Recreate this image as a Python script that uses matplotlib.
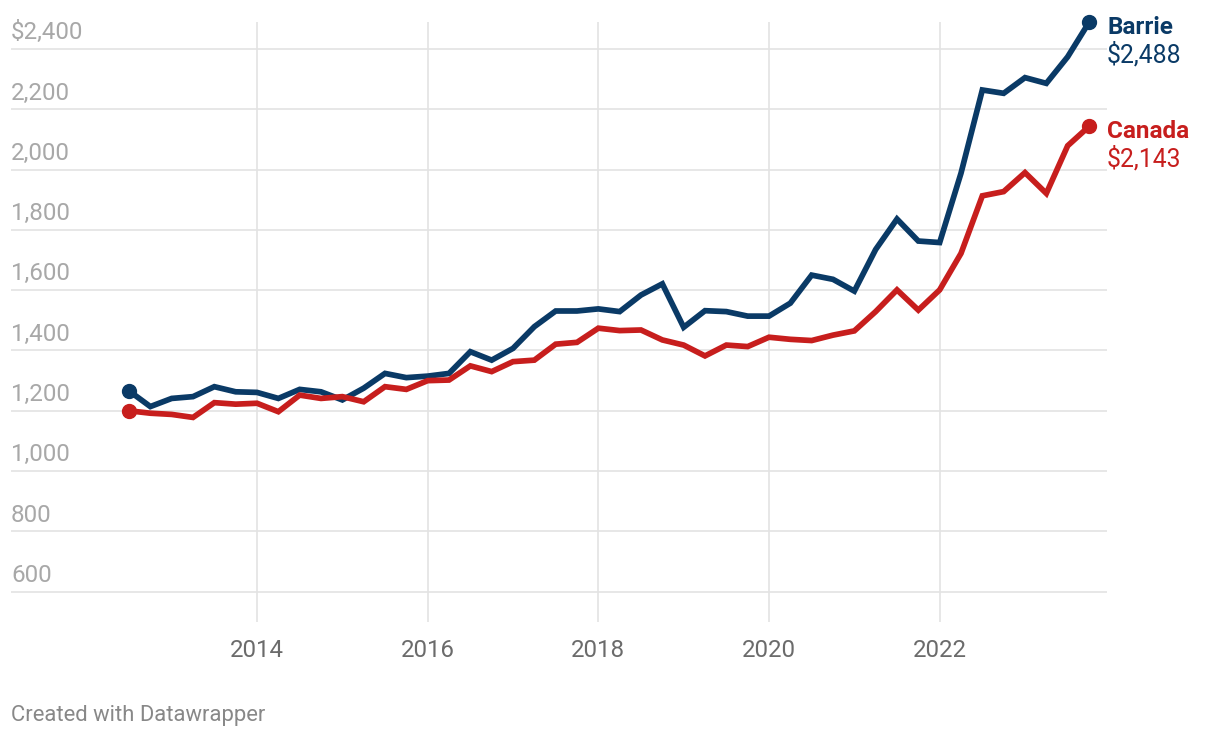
import matplotlib
matplotlib.use("Agg")
import matplotlib.pyplot as plt
import matplotlib.transforms as mtransforms
import pandas as pd

# ---- data ----
quarters = [str(p) for p in pd.period_range("2012Q3", "2023Q4", freq="Q")]
barrie = [1266, 1214, 1241, 1247, 1280, 1263, 1261, 1241, 1271, 1263, 1236, 1275,
          1324, 1310, 1315, 1324, 1396, 1368, 1407, 1479, 1531, 1531, 1538, 1529,
          1584, 1621, 1477, 1532, 1529, 1514, 1514, 1557, 1650, 1636, 1597, 1735,
          1836, 1763, 1758, 1988, 2264, 2253, 2305, 2286, 2374, 2488]
canada = [1200, 1192, 1188, 1178, 1227, 1222, 1225, 1197, 1252, 1241, 1247, 1230,
          1280, 1271, 1300, 1302, 1349, 1330, 1363, 1368, 1421, 1427, 1474, 1466,
          1468, 1435, 1418, 1382, 1418, 1413, 1444, 1437, 1433, 1451, 1465, 1529,
          1601, 1534, 1601, 1722, 1913, 1927, 1990, 1921, 2079, 2143]
series_names = ["Barrie", "Canada"]
end_labels = ["$2,488", "$2,143"]
y_ticks = [600, 800, 1000, 1200, 1400, 1600, 1800, 2000, 2200, 2400]
y_tick_labels = ["600", "800", "1,000", "1,200", "1,400", "1,600", "1,800",
                 "2,000", "2,200", "$2,400"]
x_ticks = [2014, 2016, 2018, 2020, 2022]

x = [int(q[:4]) + (int(q[-1]) - 1) / 4 for q in quarters]

plt.rcParams["font.family"] = ["Roboto", "DejaVu Sans"]

BLUE = "#0a3a66"
RED = "#c71e1d"
GRID = "#e3e3e3"

fig = plt.figure(figsize=(12.2, 7.38), dpi=100)
W, H = 1220, 738
left, right, top, bottom = 11, 1107, 22, 622
ax = fig.add_axes([left / W, 1 - bottom / H, (right - left) / W, (bottom - top) / H])

ax.set_xlim(2011.117, 2023.961)
ax.set_ylim(499.5, 2489.5)

for s in ax.spines.values():
    s.set_visible(False)

ax.set_yticks(y_ticks)
ax.set_yticklabels([])
ax.set_xticks(x_ticks)
ax.set_xticklabels([str(t) for t in x_ticks], fontsize=17.3, color="#6b6b6b")
ax.tick_params(axis="both", length=0)
ax.tick_params(axis="x", pad=12)
ax.grid(True, color=GRID, linewidth=1.2, zorder=0)
ax.set_axisbelow(True)

trans = mtransforms.blended_transform_factory(ax.transAxes, ax.transData)
for v, lab in zip(y_ticks, y_tick_labels):
    ax.annotate(lab, xy=(0, v), xycoords=trans, xytext=(0, 7),
                textcoords="offset points", ha="left", va="baseline",
                fontsize=17.4, color="#a8a8a8")

for vals, col, name, lab in zip([barrie, canada], [BLUE, RED], series_names, end_labels):
    ax.plot(x, vals, color=col, linewidth=4.1, solid_joinstyle="miter",
            solid_capstyle="butt", zorder=3, clip_on=False)
    ax.plot([x[0], x[-1]], [vals[0], vals[-1]], "o", color=col, markersize=10,
            zorder=4, clip_on=False)
    ax.annotate(name, xy=(x[-1], vals[-1]), xytext=(13, -3.5),
                textcoords="offset points", ha="left", va="center",
                fontsize=17.5, fontweight="bold", color=col, annotation_clip=False)
    ax.annotate(lab, xy=(x[-1], vals[-1]), xytext=(13, -23.5),
                textcoords="offset points", ha="left", va="center",
                fontsize=17.8, color=col, annotation_clip=False)

fig.text(11 / W, 1 - 716 / H, "Created with Datawrapper", ha="left", va="center",
         fontsize=15.8, color="#888888")

fig.savefig("out.png", dpi=100)
